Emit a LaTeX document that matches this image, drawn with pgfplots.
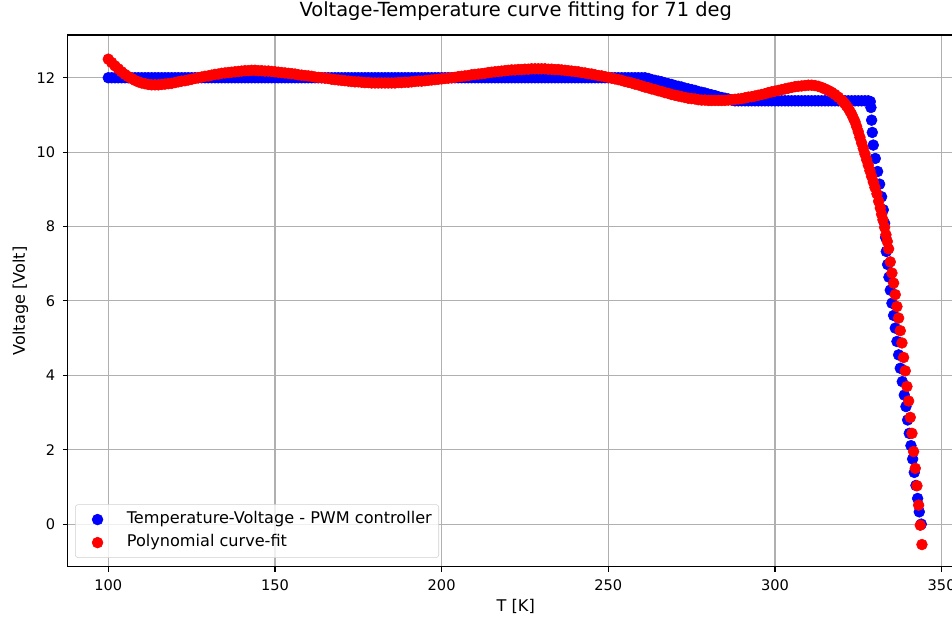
\documentclass[border=0pt]{standalone}
\usepackage{fontspec}
\setmainfont{DejaVu Sans}
\usepackage{pgfplots}
\pgfplotsset{compat=1.18}
\begin{document}
\fontsize{10}{12}\selectfont
\begin{tikzpicture}
\begin{axis}[
 name=ax,
 scale only axis, width=645.4pt, height=383pt,
 xmin=87.8, xmax=356.7, ymin=-1.15, ymax=13.15,
 xtick={100,150,200,250,300,350}, ytick={0,2,4,6,8,10,12},
 tick align=outside, xtick pos=lower, ytick pos=left,
 major tick length=3.5pt,
 tick style={black, line width=0.8pt},
 axis line style={line width=0.8pt},
 grid=major, major grid style={color=black!31, line width=0.8pt},
 /pgf/number format/assume math mode=true,
 ticklabel style={font=\fontsize{10.5}{12}\selectfont},
 xticklabel style={yshift=-2.5pt},
 yticklabel style={xshift=-2pt},
 title={Voltage-Temperature curve fitting for 71 deg},
 title style={font=\fontsize{14}{16}\selectfont, at={(axis description cs:0.5,1)}, anchor=base, yshift=7.2pt},
 xlabel={T [K]}, ylabel={Voltage [Volt]},
 xlabel style={font=\fontsize{11.6}{13}\selectfont, at={(axis description cs:0.5,0)}, anchor=base, yshift=-32.4pt},
 ylabel style={font=\fontsize{11.6}{13}\selectfont, at={(axis description cs:0,0.5)}, anchor=base, yshift=30.7pt},
 legend cell align=left,
 legend style={at={(axis description cs:0.0083,0.0169)}, anchor=south west, draw=black!18, rounded corners=2pt,
   fill=white, fill opacity=0.8, text opacity=1, font=\fontsize{11.6}{13}\selectfont,
   inner xsep=5pt, inner ysep=5.1pt, row sep=5.2pt, column sep=0pt,
   nodes={inner sep=0pt, text height=8.6pt, text depth=2.8pt}},
 legend image code/.code={\path (0pt,0pt) (31.7pt,0pt); \draw[only marks,#1,fill opacity=1,draw opacity=1] plot coordinates {(10.8pt,0pt)};},
]
\addplot[only marks, mark=*, mark size=3.9pt, color=blue, mark options={draw=none, fill=blue}] coordinates {
(100,12)(101,12)(102,12)(103,12)(104,12)(105,12)(106,12)(107,12)(108,12)(109,12)
(110,12)(111,12)(112,12)(113,12)(114,12)(115,12)(116,12)(117,12)(118,12)(119,12)
(120,12)(121,12)(122,12)(123,12)(124,12)(125,12)(126,12)(127,12)(128,12)(129,12)
(130,12)(131,12)(132,12)(133,12)(134,12)(135,12)(136,12)(137,12)(138,12)(139,12)
(140,12)(141,12)(142,12)(143,12)(144,12)(145,12)(146,12)(147,12)(148,12)(149,12)
(150,12)(151,12)(152,12)(153,12)(154,12)(155,12)(156,12)(157,12)(158,12)(159,12)
(160,12)(161,12)(162,12)(163,12)(164,12)(165,12)(166,12)(167,12)(168,12)(169,12)
(170,12)(171,12)(172,12)(173,12)(174,12)(175,12)(176,12)(177,12)(178,12)(179,12)
(180,12)(181,12)(182,12)(183,12)(184,12)(185,12)(186,12)(187,12)(188,12)(189,12)
(190,12)(191,12)(192,12)(193,12)(194,12)(195,12)(196,12)(197,12)(198,12)(199,12)
(200,12)(201,12)(202,12)(203,12)(204,12)(205,12)(206,12)(207,12)(208,12)(209,12)
(210,12)(211,12)(212,12)(213,12)(214,12)(215,12)(216,12)(217,12)(218,12)(219,12)
(220,12)(221,12)(222,12)(223,12)(224,12)(225,12)(226,12)(227,12)(228,12)(229,12)
(230,12)(231,12)(232,12)(233,12)(234,12)(235,12)(236,12)(237,12)(238,12)(239,12)
(240,12)(241,12)(242,12)(243,12)(244,12)(245,12)(246,12)(247,12)(248,12)(249,12)
(250,12)(251,12)(252,12)(253,12)(254,12)(255,12)(256,12)(257,12)(258,12)(259,12)
(260,12)(261,12.00)(262,11.98)(263,11.95)(264,11.93)(265,11.91)(266,11.89)(267,11.86)(268,11.84)(269,11.82)
(270,11.79)(271,11.77)(272,11.75)(273,11.72)(274,11.70)(275,11.68)(276,11.66)(277,11.63)(278,11.61)(279,11.59)
(280,11.56)(281,11.54)(282,11.52)(283,11.49)(284,11.47)(285,11.45)(286,11.43)(287,11.40)(288,11.38)(289,11.38)
(290,11.38)(291,11.38)(292,11.38)(293,11.38)(294,11.38)(295,11.38)(296,11.38)(297,11.38)(298,11.38)(299,11.38)
(300,11.38)(301,11.38)(302,11.38)(303,11.38)(304,11.38)(305,11.38)(306,11.38)(307,11.38)(308,11.38)(309,11.38)
(310,11.38)(311,11.38)(312,11.38)(313,11.38)(314,11.38)(315,11.38)(316,11.38)(317,11.38)(318,11.38)(319,11.38)
(320,11.38)(321,11.38)(322,11.38)(323,11.38)(324,11.38)(325,11.38)(326,11.38)(327,11.38)(328,11.38)(328.6,11.36)
(328.8,11.20)(329.0,10.86)(329.2,10.53)(329.5,10.19)(330.1,9.83)(330.8,9.48)(331.4,9.14)(332.0,8.80)(332.5,8.45)(332.9,8.09)
(333.2,7.71)(333.4,7.33)(333.8,6.98)(334.2,6.64)(334.6,6.29)(335.1,5.94)(335.6,5.61)(336.1,5.27)(336.6,4.91)(337.1,4.55)
(337.6,4.19)(338.2,3.83)(338.8,3.47)(339.3,3.16)(339.8,2.80)(340.3,2.44)(340.8,2.11)(341.3,1.75)(341.8,1.39)(342.3,1.04)
(342.8,0.69)(343.3,0.33)(343.9,0.00)
};
\addlegendentry{Temperature-Voltage - PWM controller}
\addplot[only marks, mark=*, mark size=3.9pt, color=red, mark options={draw=none, fill=red}] coordinates {
(100,12.50)(101,12.41)(102,12.32)(103,12.24)(104,12.16)(105,12.09)(106,12.03)(107,11.98)(108,11.93)(109,11.89)
(110,11.86)(111,11.84)(112,11.82)(113,11.81)(114,11.81)(115,11.81)(116,11.82)(117,11.83)(118,11.84)(119,11.85)
(120,11.87)(121,11.89)(122,11.91)(123,11.92)(124,11.94)(125,11.96)(126,11.98)(127,12.00)(128,12.02)(129,12.04)
(130,12.05)(131,12.07)(132,12.09)(133,12.10)(134,12.12)(135,12.13)(136,12.14)(137,12.15)(138,12.16)(139,12.17)
(140,12.18)(141,12.19)(142,12.19)(143,12.20)(144,12.20)(145,12.19)(146,12.19)(147,12.18)(148,12.18)(149,12.17)
(150,12.16)(151,12.15)(152,12.14)(153,12.13)(154,12.12)(155,12.11)(156,12.10)(157,12.08)(158,12.07)(159,12.06)
(160,12.05)(161,12.04)(162,12.02)(163,12.01)(164,12.00)(165,11.99)(166,11.98)(167,11.96)(168,11.95)(169,11.94)
(170,11.93)(171,11.92)(172,11.91)(173,11.90)(174,11.89)(175,11.89)(176,11.88)(177,11.87)(178,11.87)(179,11.86)
(180,11.86)(181,11.86)(182,11.86)(183,11.86)(184,11.86)(185,11.86)(186,11.86)(187,11.87)(188,11.87)(189,11.88)
(190,11.88)(191,11.89)(192,11.90)(193,11.91)(194,11.91)(195,11.92)(196,11.93)(197,11.94)(198,11.95)(199,11.96)
(200,11.97)(201,11.98)(202,11.99)(203,12.00)(204,12.01)(205,12.03)(206,12.04)(207,12.05)(208,12.06)(209,12.08)
(210,12.09)(211,12.10)(212,12.11)(213,12.12)(214,12.14)(215,12.15)(216,12.16)(217,12.17)(218,12.18)(219,12.19)
(220,12.20)(221,12.21)(222,12.21)(223,12.22)(224,12.22)(225,12.23)(226,12.23)(227,12.24)(228,12.24)(229,12.24)
(230,12.24)(231,12.24)(232,12.23)(233,12.23)(234,12.22)(235,12.22)(236,12.21)(237,12.20)(238,12.19)(239,12.18)
(240,12.17)(241,12.16)(242,12.14)(243,12.13)(244,12.11)(245,12.10)(246,12.08)(247,12.06)(248,12.05)(249,12.03)
(250,12.01)(251,11.99)(252,11.97)(253,11.95)(254,11.93)(255,11.90)(256,11.88)(257,11.86)(258,11.83)(259,11.81)
(260,11.78)(261,11.75)(262,11.73)(263,11.70)(264,11.68)(265,11.65)(266,11.63)(267,11.60)(268,11.58)(269,11.55)
(270,11.53)(271,11.51)(272,11.49)(273,11.47)(274,11.45)(275,11.44)(276,11.43)(277,11.41)(278,11.40)(279,11.40)
(280,11.39)(281,11.39)(282,11.39)(283,11.39)(284,11.39)(285,11.39)(286,11.40)(287,11.41)(288,11.42)(289,11.43)
(290,11.44)(291,11.46)(292,11.48)(293,11.49)(294,11.51)(295,11.53)(296,11.55)(297,11.57)(298,11.60)(299,11.62)
(300,11.64)(301,11.66)(302,11.68)(303,11.70)(304,11.72)(305,11.74)(306,11.76)(307,11.77)(308,11.78)(309,11.79)
(310,11.80)(311,11.80)(312,11.79)(313,11.77)(314,11.74)(315,11.70)(316,11.66)(317,11.61)(318,11.55)(319,11.48)
(320,11.40)(320.5,11.35)(321,11.30)(321.5,11.24)(322,11.18)(322.5,11.10)(323,11.02)(323.5,10.92)(324,10.82)(324.5,10.69)
(325,10.55)(325.5,10.40)(326.0,10.25)(326.5,10.10)(327.0,9.95)
(327.5,9.80)(328.0,9.65)(328.5,9.50)(329.0,9.35)(329.5,9.20)(330.0,9.05)(330.6,8.88)(331.1,8.68)(331.6,8.50)(332.0,8.33)
(332.4,8.18)(332.9,7.98)(333.3,7.78)(333.7,7.60)(334.1,7.40)(334.6,7.05)(335.1,6.75)(335.6,6.48)(336.1,6.17)(336.6,5.85)
(337.1,5.54)(337.6,5.20)(338.1,4.87)(338.6,4.48)(339.1,4.12)(339.6,3.70)(340.1,3.31)(340.6,2.87)(341.1,2.44)(341.6,1.95)
(342.1,1.50)(342.6,1.03)(343.1,0.51)(343.6,-0.03)(344.1,-0.55)
};
\addlegendentry{Polynomial curve-fit}
\end{axis}
\pgfresetboundingbox
\path[use as bounding box] ([xshift=-48.7pt,yshift=-37.4pt]ax.south west) rectangle ([xshift=-8.6pt,yshift=25.2pt]ax.north east);
\end{tikzpicture}
\end{document}
